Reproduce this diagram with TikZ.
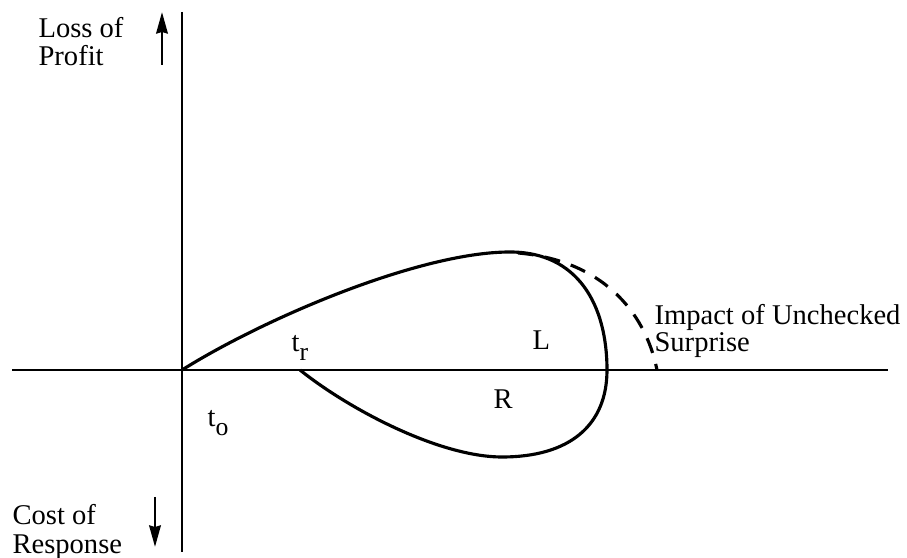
\documentclass[tikz,border=0pt]{standalone}
\usepackage{fontspec}
\setmainfont{Liberation Serif}
\usetikzlibrary{arrows.meta,positioning}
\tikzstyle{axis} = [line width=0.5pt]
\tikzstyle{curve} = [line width=1.1pt, line join=round]
\tikzstyle{unchecked} = [line width=1.1pt, dash pattern=on 5.5pt off 4pt]
\tikzstyle{arrow} = [line width=1pt,->,>={Stealth[length=7.5pt,width=4pt,inset=0.5pt]}]
\tikzstyle{lbl} = [inner sep=0pt, align=left]
\tikzstyle{sym} = [inner sep=0pt, anchor=base west]
\newcommand{\lowsub}[1]{\raisebox{-3pt}{\fontsize{9}{9}\selectfont #1}}

\begin{document}
\begin{tikzpicture}[x=0.35pt,y=-0.35pt]
    \useasboundingbox (0,0) rectangle (907,558);
    % axes
    \coordinate (ytop) at (182,12);
    \coordinate (ybot) at (182,552);
    \coordinate (xleft) at (12,370);
    \coordinate (xright) at (888,370);
    \draw[axis] (ytop) -- (ybot);
    \draw[axis] (xleft) -- (xright);
    % axis labels
    \node[lbl, anchor=north west, font=\fontsize{10}{9.8}\selectfont] (loss) at (38,17) {Loss of\\Profit};
    \node[lbl, anchor=north west, font=\fontsize{10}{10.1}\selectfont] (cost) at (12,504) {Cost of\\Response};
    \coordinate (up0) at (162,65);
    \coordinate (up1) at (162,12);
    \coordinate (dn0) at (155,497);
    \coordinate (dn1) at (155,547);
    \draw[arrow] (up0) -- (up1);
    \draw[arrow] (dn0) -- (dn1);
    % loop
    \coordinate (O) at (182,370);
    \coordinate (top) at (510,252);
    \coordinate (cross) at (607,370);
    \coordinate (bot) at (502,457);
    \coordinate (tr) at (300,370);
    \draw[curve] (O) .. controls (265,318) and (420,252) .. (top)
        .. controls (578,252) and (607,305) .. (cross)
        .. controls (607,425) and (570,457) .. (bot)
        .. controls (440,457) and (350,410) .. (tr);
    % unchecked surprise
    \coordinate (imp) at (657,370);
    \draw[unchecked] (518,253) .. controls (600,260) and (645,310) .. (imp);
    % labels
    \node[sym] (trl) at (291,352) {t\lowsub{r}};
    \node[sym] (tol) at (207,427) {t\lowsub{o}};
    \node[sym] (Ll) at (532,350) {L};
    \node[sym] (Rl) at (493,409) {R};
    \node[lbl, anchor=north west, font=\fontsize{10}{9.5}\selectfont] (impl) at (654,304) {Impact of Unchecked\\Surprise};
\end{tikzpicture}
\end{document}
